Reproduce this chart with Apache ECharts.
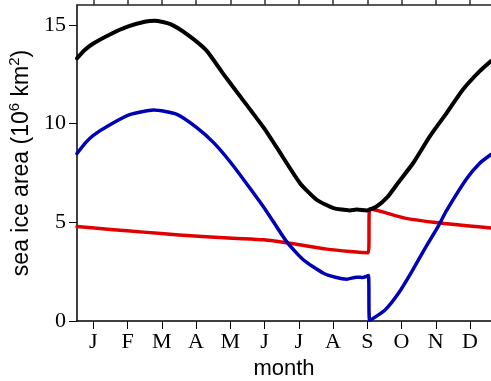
<!DOCTYPE html>
<html><head><meta charset="utf-8">
<script src="https://cdn.jsdelivr.net/npm/echarts@6/dist/echarts.min.js"></script>
<style>html,body{margin:0;padding:0;background:#fff}#c{width:491px;height:381px}</style>
</head><body><div id="c"></div>
<script>
const monthLabels = ['J','F','M','A','M','J','J','A','S','O','N','D'];
const monthTicks = [1,2,3,4,5,6,7,8,9,10,11,12];
const yTicks = [0,5,10,15];

const blackX = [0.524,0.75,1.0,1.5,2.0,2.5,2.8,3.25,3.75,4.3,4.8,5.3,5.97,6.35,7.03,7.52,8.01,8.49,8.69,8.98,9.27,9.6,9.9,10.34,10.83,11.32,11.8,12.29,12.612];
const blackY = [13.3,13.72,14.05,14.52,14.9,15.15,15.2,15.03,14.5,13.7,12.5,11.35,9.8,8.8,6.99,6.14,5.72,5.6,5.64,5.6,5.8,6.3,7.0,8.0,9.36,10.54,11.73,12.66,13.16];

const blueX = [0.524,0.77,1.0,1.5,2.08,2.76,3.44,4.03,4.52,5.0,5.57,6.06,6.64,7.13,7.72,8.1,8.4,8.69,8.88,9.03,9.07,9.52,9.91,10.3,10.69,11.07,11.3,11.9,12.29,12.612];
const blueY = [8.48,9.02,9.4,9.95,10.46,10.68,10.46,9.78,9.02,8.05,6.73,5.55,4.03,3.1,2.42,2.2,2.12,2.22,2.2,2.3,0.03,0.56,1.4,2.5,3.69,4.79,5.55,7.2,8.0,8.43];

const redX = [0.524,1.5,2.47,3.5,4.42,5.2,5.97,6.4,6.85,7.82,8.5,9.03,9.07,9.5,10.1,11.12,11.9,12.612];
const redY = [4.79,4.63,4.5,4.36,4.25,4.18,4.11,4.02,3.91,3.64,3.52,3.46,5.68,5.5,5.21,4.96,4.82,4.71];

const zip = (xs, ys) => xs.map((x, i) => [x, ys[i]]);
const serif = 'Liberation Serif';
const sans = 'Liberation Sans';
const chart = echarts.init(document.getElementById('c'), null, {renderer: 'canvas'});
const lineSeries = (data, color, w) => ({
  type: 'line', data, showSymbol: false, smooth: 0.2,
  lineStyle: {color, width: w, join: 'round', cap: 'round'}, animation: false, xAxisIndex: 0, yAxisIndex: 0
});
chart.setOption({
  animation: false,
  grid: {left: 77, top: 5, right: 0, bottom: 60, containLabel: false, outerBoundsMode: 'none'},
  xAxis: [{
    type: 'value', min: 0.524, max: 12.612, position: 'bottom',
    name: 'month', nameLocation: 'middle', nameGap: 35,
    nameTextStyle: {fontFamily: sans, fontSize: 22, color: '#000'},
    axisLine: {show: true, onZero: false, lineStyle: {color: '#000', width: 1.5}},
    axisTick: {show: true, inside: false, length: 8, customValues: monthTicks, lineStyle: {color: '#000', width: 1}},
    axisLabel: {customValues: monthTicks, margin: 10, fontFamily: serif, fontSize: 22, color: '#000',
      formatter: v => monthLabels[Math.round(v) - 1] || ''},
    splitLine: {show: false}
  }, {
    type: 'value', min: 0.524, max: 12.612, position: 'top',
    axisLine: {show: true, onZero: false, lineStyle: {color: '#222', width: 1.5}},
    axisTick: {show: true, inside: false, length: 6, customValues: monthTicks, lineStyle: {color: '#333', width: 1.5}},
    axisLabel: {show: true, customValues: monthTicks, color: 'rgba(0,0,0,0)', formatter: () => ''},
    splitLine: {show: false}
  }],
  yAxis: [{
    type: 'value', min: 0, max: 16,
    name: '{a|sea ice area (10}{s|6}{a| km}{s|2}{a|)}',
    nameLocation: 'middle', nameRotate: 90, nameGap: 37,
    nameTextStyle: {rich: {
      a: {fontFamily: sans, fontSize: 23, color: '#000', lineHeight: 29},
      s: {fontFamily: sans, fontSize: 15, color: '#000', verticalAlign: 'top', lineHeight: 29}
    }},
    axisLine: {show: true, lineStyle: {color: '#000', width: 1.5}},
    axisTick: {show: true, inside: false, length: 8, customValues: yTicks, lineStyle: {color: '#000', width: 1}},
    axisLabel: {customValues: yTicks, margin: 11, fontFamily: serif, fontSize: 22, color: '#000'},
    splitLine: {show: false}
  }],
  series: [
    lineSeries(zip(redX, redY), '#e00000', 3.5),
    lineSeries(zip(blueX, blueY), '#0000b4', 3.5),
    lineSeries(zip(blackX, blackY), '#000000', 4)
  ]
});
</script></body></html>
